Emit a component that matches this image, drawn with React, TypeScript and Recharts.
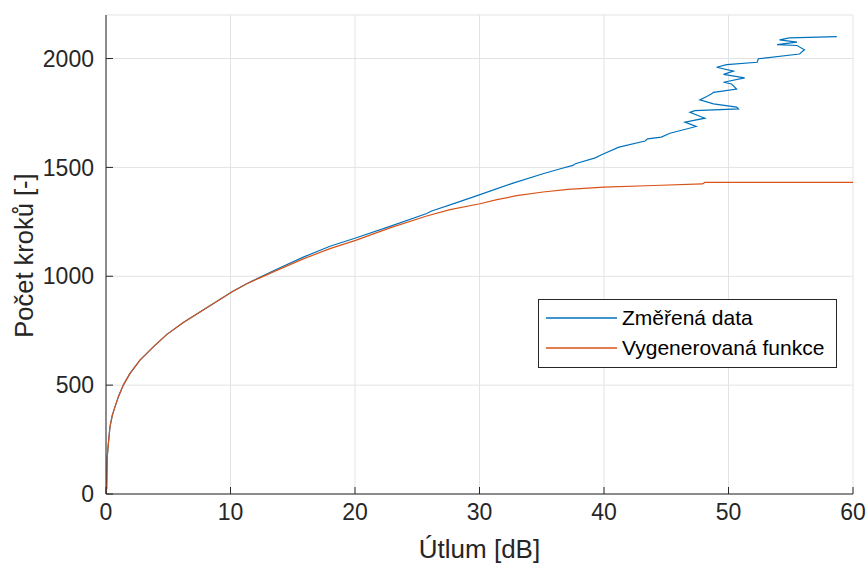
import React from 'react';
import { LineChart, Line, XAxis, YAxis, CartesianGrid, Legend, Label } from 'recharts';

const measuredX = [0, 0.05, 0.1, 0.19, 0.32, 0.51, 0.72, 0.99, 1.39, 1.93, 2.73, 3.8, 4.87, 6.21, 7.55, 8.89, 10.1, 11.3, 12.4, 13.71, 15.85, 17.99, 20.05, 22.81, 25.76, 26.16, 28.17, 30.04, 32.7, 35.1, 36.5, 37.5, 37.7, 39.3, 39.8, 41.2, 43.3, 43.5, 44.6, 45.3, 47.4, 46.5, 48.1, 46.9, 47.3, 50.8, 50.65, 48.8, 47.7, 48.25, 48.65, 48.8, 50.65, 50.25, 49.6, 51.3, 49.6, 50.4, 49.05, 49.85, 52.3, 52.4, 55.7, 56.1, 55.5, 53.9, 55.5, 54.1, 54.9, 58.7];
const measuredY = [0, 26, 171, 232, 309, 362, 400, 446, 500, 554, 615, 676, 732, 788, 836, 884, 928, 966, 996, 1032, 1088, 1138, 1176, 1229, 1288, 1300, 1338, 1375, 1428, 1471, 1494, 1509, 1517, 1544, 1558, 1593, 1621, 1631, 1639, 1657, 1688, 1708, 1726, 1753, 1761, 1769, 1777, 1792, 1810, 1826, 1838, 1845, 1860, 1883, 1891, 1911, 1927, 1942, 1960, 1972, 1983, 1999, 2021, 2040, 2060, 2064, 2075, 2086, 2095, 2101];

const fittedX = [0, 0.05, 0.1, 0.19, 0.32, 0.51, 0.72, 0.99, 1.39, 1.93, 2.73, 3.8, 4.87, 6.21, 7.55, 8.89, 10.1, 11.3, 12.4, 13.71, 15.85, 17.99, 20.05, 22.81, 25.76, 27.63, 30.04, 31.4, 32.99, 35.1, 37.1, 40, 44, 47.9, 48.1, 60];
const fittedY = [0, 26, 171, 232, 309, 362, 400, 446, 500, 554, 615, 676, 732, 788, 836, 884, 928, 966, 994, 1027, 1080, 1127, 1165, 1222, 1277, 1306, 1333, 1352, 1370, 1387, 1399, 1409, 1417, 1424, 1431, 1431];

const xTicks = [0, 10, 20, 30, 40, 50, 60];
const yTicks = [0, 500, 1000, 1500, 2000];
const xDomain: [number, number] = [0, 60];
const yDomain: [number, number] = [0, 2200];

const seriesNames = ['Změřená data', 'Vygenerovaná funkce'];
const seriesColors = ['#0072BD', '#D95319'];

const measured = measuredX.map((x, i) => ({ x, y: measuredY[i] }));
const fitted = fittedX.map((x, i) => ({ x, y: fittedY[i] }));

const FONT = '"Liberation Sans", Arial, Helvetica, sans-serif';
const INK = '#262626';

const renderLegend = (props: any) => {
  const payload = [...(props.payload || [])].sort(
    (a: any, b: any) => seriesNames.indexOf(a.value) - seriesNames.indexOf(b.value)
  );
  return (
    <div
      style={{
        position: 'relative',
        boxSizing: 'border-box',
        width: 299,
        height: 69,
        border: `1px solid ${INK}`,
        background: '#fff',
        fontFamily: FONT,
        fontSize: 21,
        color: '#000',
      }}
    >
      {payload.map((p: any, i: number) => (
        <div key={i} style={{ position: 'absolute', left: 0, top: 6 + i * 30, height: 24, width: 297 }}>
          <svg width={80} height={24} style={{ position: 'absolute', left: 0, top: 0 }}>
            <line x1={7} x2={78} y1={12} y2={12} stroke={p.color} strokeWidth={1.3} />
          </svg>
          <span style={{ position: 'absolute', left: 83, top: 0, lineHeight: '24px', whiteSpace: 'nowrap' }}>
            {p.value}
          </span>
        </div>
      ))}
    </div>
  );
};

export default function App() {
  const tickStyle = { fontFamily: FONT, fontSize: 23, fill: INK };
  return (
    <div style={{ position: 'absolute', left: 0, top: 0, width: 868, height: 564, background: '#fff' }}>
      <LineChart
        width={868}
        height={564}
        margin={{ top: 15, right: 15, bottom: 0, left: 0 }}
        style={{ fontFamily: FONT }}
      >
        <CartesianGrid stroke="#e3e3e3" strokeWidth={1} />
        <XAxis
          type="number"
          dataKey="x"
          domain={xDomain}
          ticks={xTicks}
          interval={0}
          allowDataOverflow
          height={70}
          tickSize={-7}
          tickMargin={17}
          axisLine={{ stroke: INK, strokeWidth: 1 }}
          tickLine={{ stroke: INK, strokeWidth: 1 }}
          tick={tickStyle}
        >
          <Label
            content={(p: any) => {
              const vb = p.viewBox || { x: 106, y: 494, width: 747, height: 70 };
              return (
                <text
                  x={vb.x + vb.width / 2}
                  y={vb.y + 64}
                  textAnchor="middle"
                  fontFamily={FONT}
                  fontSize={26}
                  fill={INK}
                >
                  Útlum [dB]
                </text>
              );
            }}
          />
        </XAxis>
        <XAxis
          xAxisId="top"
          orientation="top"
          type="number"
          dataKey="x"
          domain={xDomain}
          ticks={xTicks}
          interval={0}
          allowDataOverflow
          height={0}
          tickSize={-7}
          axisLine={{ stroke: INK, strokeWidth: 1 }}
          tickLine={{ stroke: INK, strokeWidth: 1 }}
          tick={false}
        />
        <YAxis
          type="number"
          domain={yDomain}
          ticks={yTicks}
          interval={0}
          allowDataOverflow
          width={106}
          tickSize={-7}
          tickMargin={19}
          axisLine={{ stroke: INK, strokeWidth: 1 }}
          tickLine={{ stroke: INK, strokeWidth: 1 }}
          tick={tickStyle}
        >
          <Label
            content={(p: any) => {
              const vb = p.viewBox || { x: 0, y: 15, width: 106, height: 479 };
              const cx = 33;
              const cy = vb.y + vb.height / 2 + 1;
              return (
                <text
                  x={cx}
                  y={cy}
                  transform={`rotate(-90, ${cx}, ${cy})`}
                  textAnchor="middle"
                  fontFamily={FONT}
                  fontSize={25.5}
                  fill={INK}
                >
                  Počet kroků [-]
                </text>
              );
            }}
          />
        </YAxis>
        <YAxis
          yAxisId="right"
          orientation="right"
          type="number"
          domain={yDomain}
          ticks={yTicks}
          interval={0}
          allowDataOverflow
          width={0}
          tickSize={-7}
          axisLine={{ stroke: INK, strokeWidth: 1 }}
          tickLine={{ stroke: INK, strokeWidth: 1 }}
          tick={false}
        />
        <Legend
          content={renderLegend}
          layout="horizontal"
          verticalAlign="middle"
          align="center"
          wrapperStyle={{ position: 'absolute', left: 538, top: 299, width: 299, height: 69 }}
        />
        <Line
          data={measured}
          dataKey="y"
          name={seriesNames[0]}
          type="linear"
          stroke={seriesColors[0]}
          strokeWidth={1.2}
          dot={false}
          activeDot={false}
          isAnimationActive={false}
        />
        <Line
          data={fitted}
          dataKey="y"
          name={seriesNames[1]}
          type="linear"
          stroke={seriesColors[1]}
          strokeWidth={1.2}
          dot={false}
          activeDot={false}
          isAnimationActive={false}
        />
      </LineChart>
    </div>
  );
}
